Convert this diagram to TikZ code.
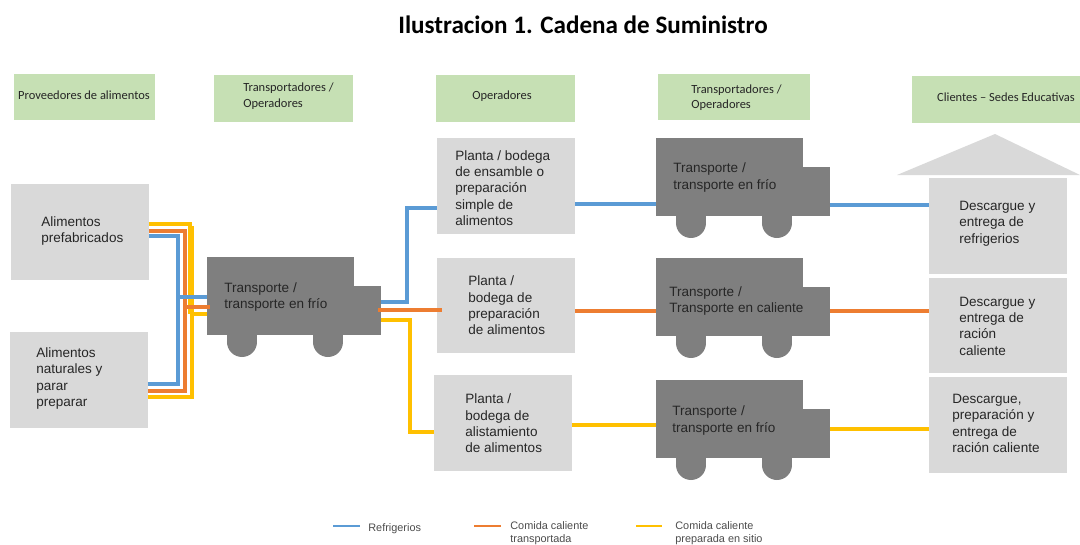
\documentclass[tikz,border=0pt]{standalone}
\usepackage{fontspec}
\usetikzlibrary{calc}
\setmainfont{Liberation Sans}
\newfontfamily\carlito{Carlito}
\definecolor{verde}{HTML}{C6E0B4}
\definecolor{gris}{HTML}{D9D9D9}
\definecolor{camiongris}{HTML}{7F7F7F}
\definecolor{azul}{HTML}{5B9BD5}
\definecolor{naranja}{HTML}{ED7D31}
\definecolor{amarillo}{HTML}{FFC000}
\tikzset{
	caja/.style={fill=gris,minimum width=2.76cm,minimum height=1.92cm,inner sep=0pt,outer sep=0pt},
	encabezado/.style={fill=verde,minimum height=0.93cm,inner sep=0pt,outer sep=0pt},
	cuerpo/.style={fill=camiongris,minimum width=2.94cm,minimum height=1.56cm,inner sep=0pt,outer sep=0pt},
	cabina/.style={fill=camiongris,minimum width=0.54cm,minimum height=0.98cm,inner sep=0pt,outer sep=0pt},
	rueda/.style={circle,fill=camiongris,minimum size=0.6cm,inner sep=0pt,outer sep=0pt},
	eje/.style={fill=camiongris,minimum width=0.6cm,minimum height=0.14cm,inner sep=0pt,outer sep=0pt,anchor=north},
	texto/.style={anchor=west,align=left,inner sep=0pt,text=black!85,font=\fontsize{7.7}{9.3}\selectfont},
	textoenc/.style={align=left,inner sep=0pt,text=black!85,font=\carlito\fontsize{7.1}{8.8}\selectfont},
	textoley/.style={anchor=west,align=left,inner sep=0pt,text=black!70,font=\fontsize{6.2}{7.4}\selectfont},
	linea/.style={line width=0.065cm}
}
% camion: name, left, top
\newcommand{\camion}[3]{
	\node[rueda] (#1r) at ([xshift=0.7cm,yshift=-0.14cm]$(#2,#3)+(0,78)$) {};
	\node[rueda] (#1s) at ([xshift=2.42cm,yshift=-0.14cm]$(#2,#3)+(0,78)$) {};
	\node[eje] at ([xshift=0.7cm]$(#2,#3)+(0,78)$) {};
	\node[eje] at ([xshift=2.42cm]$(#2,#3)+(0,78)$) {};
	\node[cuerpo,anchor=north west] (#1) at (#2,#3) {};
	\node[cabina,anchor=south west] (#1c) at (#1.south east) {};
}
\begin{document}
\begin{tikzpicture}[x=0.02cm,y=-0.02cm]
	\useasboundingbox (0,0) rectangle (1080,545);
	%title
		\node[inner sep=0pt,font=\carlito\bfseries\fontsize{14.3}{16}\selectfont] (titulo) at (583,25) {Ilustracion 1. Cadena de Suministro};
	%header row
		\node[encabezado,minimum width=2.82cm] (encprov) at (84.5,97) {};
		\node[encabezado,minimum width=2.78cm] (enctrans) at (283.5,98.5) {};
		\node[encabezado,minimum width=2.78cm] (encoper) at (505.5,98.5) {};
		\node[encabezado,minimum width=3.04cm] (enctransb) at (734,97) {};
		\node[encabezado,minimum width=3.36cm] (encclien) at (996,99.5) {};
		\node[textoenc] (tprov) at (84,95) {Proveedores de alimentos};
		\node[textoenc,anchor=west] (ttrans) at (243,96) {Transportadores /\\Operadores};
		\node[textoenc] (toper) at (502,96) {Operadores};
		\node[textoenc,anchor=west] (ttransb) at (691,97.5) {Transportadores /\\Operadores};
		\node[textoenc] (tclien) at (1006,97) {Clientes – Sedes Educativas};
	%gray boxes
		\node[caja] (prefab) at (80,232) {};
		\node[caja] (natural) at (79,380) {};
		\node[caja] (plantaa) at (506,186) {};
		\node[caja] (plantab) at (506,305.5) {};
		\node[caja] (plantac) at (503,423) {};
		\node[caja] (sedea) at (998,226) {};
		\node[caja] (sedeb) at (998,325.5) {};
		\node[caja] (sedec) at (998,425) {};
	%roof
		\fill[gris] (897,175) -- (995,134) -- (1080,175) -- cycle;
	%trucks
		\camion{camiona}{207}{257}
		\camion{camionb}{656}{138}
		\camion{camionc}{656}{258}
		\camion{camiond}{656}{380}
	%left lines
		\coordinate (busazul) at (178,297);
		\coordinate (busnar) at (185,307);
		\coordinate (busama) at (190,314);
		\draw[linea,amarillo] (prefab.east |- 0,224) -| (busama);
		\draw[linea,amarillo] (natural.east |- 0,397) -| (192,226);
		\draw[linea,naranja] (prefab.east |- 0,231) -| (busnar);
		\draw[linea,naranja] (natural.east |- 0,391) -| (busnar);
		\draw[linea,azul] (prefab.east |- 0,236) -| (busazul);
		\draw[linea,azul] (natural.east |- 0,384) -| (busazul);
		\draw[linea,amarillo] (busama) -- (camiona.west |- busama);
		\draw[linea,naranja] (busnar) -- (210,307);
		\draw[linea,azul] (busazul) -- (camiona.west |- busazul);
	%truck to plants
		\draw[linea,azul] (camionac.east |- 0,302) -| (407,208) -- (plantaa.west |- 0,208);
		\draw[linea,naranja] (378,310) -- (442,310);
		\draw[linea,amarillo] (camionac.east |- 0,320) -| (410,432) -- (plantac.west |- 0,432);
	%plants to trucks to clients
		\draw[linea,azul] (plantaa.east |- 0,204) -- (camionb.west |- 0,204);
		\draw[linea,naranja] (plantab.east |- 0,311) -- (camionc.west |- 0,311);
		\draw[linea,amarillo] (plantac.east |- 0,425) -- (camiond.west |- 0,425);
		\draw[linea,azul] (camionbc.east |- 0,205) -- (sedea.west |- 0,205);
		\draw[linea,naranja] (camioncc.east |- 0,311) -- (sedeb.west |- 0,311);
		\draw[linea,amarillo] (camiondc.east |- 0,429) -- (sedec.west |- 0,429);
	%box labels
		\node[texto] (tprefab) at (41,231) {Alimentos\\prefabricados};
		\node[texto] (tnatural) at (36,378.5) {Alimentos\\naturales y\\parar\\preparar};
		\node[texto] (tplantaa) at (455,188) {Planta / bodega\\de ensamble o\\preparación\\simple de\\alimentos};
		\node[texto] (tplantab) at (468,305.5) {Planta /\\bodega de\\preparación\\de alimentos};
		\node[texto] (tplantac) at (465,423.5) {Planta /\\bodega de\\alistamiento\\de alimentos};
		\node[texto] (tcamiona) at (224,297) {Transporte /\\transporte en frío};
		\node[texto] (tcamionb) at (673,177.5) {Transporte /\\transporte en frío};
		\node[texto] (tcamionc) at (669,301) {Transporte /\\Transporte en caliente};
		\node[texto] (tcamiond) at (672,420.5) {Transporte /\\transporte en frío};
		\node[texto] (tsedea) at (959,223.5) {Descargue y\\entrega de\\refrigerios};
		\node[texto] (tsedeb) at (959,326) {Descargue y\\entrega de\\ración\\caliente};
		\node[texto] (tsedec) at (952,423.5) {Descargue,\\preparación y\\entrega de\\ración caliente};
	%legend
		\node[textoley] (leya) at (368,529) {Refrigerios};
		\node[textoley] (leyb) at (510,533.5) {Comida caliente\\transportada};
		\node[textoley] (leyc) at (675,533) {Comida caliente\\preparada en sitio};
		\coordinate (inia) at (333,526);
		\coordinate (inib) at (474,526);
		\coordinate (inic) at (636,526);
		\draw[azul,line width=0.05cm] (inia) -- (360,526);
		\draw[naranja,line width=0.05cm] (inib) -- (501,526);
		\draw[amarillo,line width=0.05cm] (inic) -- (662,526);
\end{tikzpicture}
\end{document}
